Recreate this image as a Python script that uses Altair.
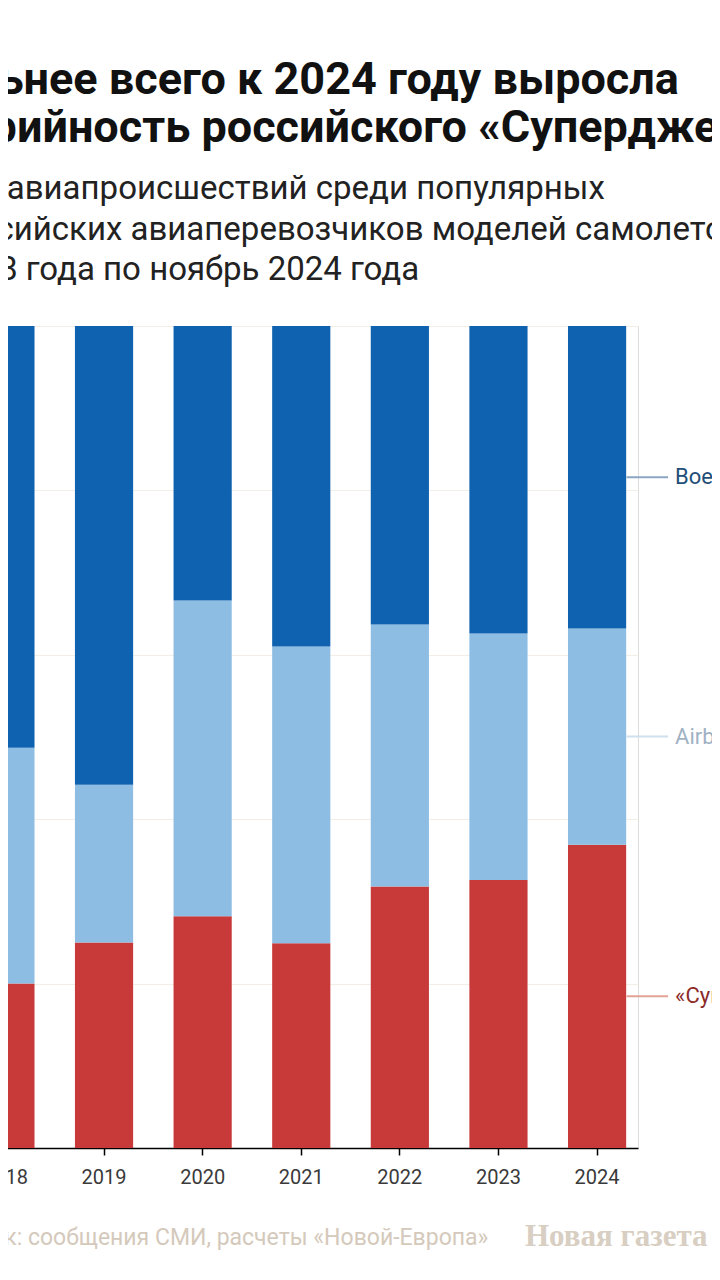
import altair as alt
import pandas as pd

years = ["2018", "2019", "2020", "2021", "2022", "2023", "2024"]
models = ["«Суперджет»", "Airbus", "Boeing"]
superjet = [20.0, 25.0, 28.2, 24.9, 31.8, 32.6, 36.9]
airbus = [28.7, 19.2, 38.4, 36.1, 31.9, 30.0, 26.3]
boeing = [51.3, 55.8, 33.4, 39.0, 36.3, 37.4, 36.8]

colors = ["#c83a3a", "#8dbde3", "#0f62b0"]
line_colors = ["#e3a394", "#cfe0ee", "#8aa6c2"]
label_colors = ["#8c2a2a", "#9fb2c4", "#1f4e79"]

title_lines = ["Сильнее всего к 2024 году выросла", "аварийность российского «Суперджета»"]
subtitle_lines = ["Доля авиапроисшествий среди популярных",
                  "у российских авиаперевозчиков моделей самолетов",
                  "с 2018 года по ноябрь 2024 года"]
source_text = "Источник: сообщения СМИ, расчеты «Новой-Европа»"
logo_text = "Новая газета Европа"

series = [superjet, airbus, boeing]
rows = []
for mi, m in enumerate(models):
    for yi, y in enumerate(years):
        rows.append({"year": y, "model": m, "share": series[mi][yi], "order": mi})
df = pd.DataFrame(rows)

# label positions: middle of each 2024 segment
last = [s[-1] for s in series]
tot = sum(last)
lab_rows = []
cum = 0.0
for mi, m in enumerate(models):
    mid = (cum + last[mi] / 2) / tot
    cum += last[mi]
    lab_rows.append({"year": years[-1], "model": m, "mid": mid})
ldf = pd.DataFrame(lab_rows)

xscale = alt.Scale(domain=years, range=[-43.5, 630], paddingInner=0.41, paddingOuter=0.12)
color_scale = alt.Scale(domain=models, range=colors)

bars = alt.Chart(df).mark_bar().encode(
    x=alt.X("year:N", scale=xscale, sort=years,
            axis=alt.Axis(title=None, labelAngle=0, domainColor="#000", domainWidth=1.5,
                          tickColor="#000", tickSize=7, tickWidth=1.5, labelFontSize=20,
                          labelColor="#3a3a3a", labelPadding=12, labelFont="Roboto")),
    y=alt.Y("share:Q", stack="normalize", scale=alt.Scale(domain=[0, 1]),
            axis=alt.Axis(title=None, grid=True, gridColor="#f3eee5", gridWidth=1,
                          domain=False, ticks=False, labels=False,
                          values=[0, 0.2, 0.4, 0.6, 0.8, 1.0])),
    color=alt.Color("model:N", scale=color_scale, legend=None),
    order=alt.Order("order:Q"),
)

rules = alt.Chart(ldf).mark_rule(xOffset=29.5, x2Offset=71, strokeWidth=2).encode(
    x=alt.X("year:N", scale=xscale, sort=years),
    x2=alt.X2("year:N"),
    y=alt.Y("mid:Q"),
    color=alt.Color("model:N", scale=alt.Scale(domain=models, range=line_colors), legend=None),
)

labels = alt.Chart(ldf).mark_text(align="left", baseline="middle", dx=78, fontSize=22,
                                  font="Roboto").encode(
    x=alt.X("year:N", scale=xscale, sort=years),
    y=alt.Y("mid:Q"),
    text="model:N",
    color=alt.Color("model:N", scale=alt.Scale(domain=models, range=label_colors), legend=None),
)

notes = pd.DataFrame({"t": [source_text]})
source = alt.Chart(notes).mark_text(align="left", baseline="alphabetic", fontSize=23,
                                    font="Roboto", color="#d4c9bb").encode(
    x=alt.value(-95), y=alt.value(919), text="t:N")
logo = alt.Chart(pd.DataFrame({"t": [logo_text]})).mark_text(
    align="left", baseline="alphabetic", fontSize=31, fontWeight="bold",
    font="Liberation Serif", color="#d8cec2").encode(
    x=alt.value(517), y=alt.value(920), text="t:N")

chart = alt.layer(bars, rules, labels, source, logo).resolve_scale(color="independent").properties(
    width=630, height=822,
    autosize=alt.AutoSizeParams(type="none"),
    padding={"left": 0, "top": 318, "right": 74, "bottom": 116},
    title=alt.TitleParams(
        text=title_lines, subtitle=subtitle_lines, anchor="start", frame="group",
        dx=-90, offset=39, font="Roboto", fontSize=45, fontWeight="bold", color="#111",
        lineHeight=48, subtitleFont="Roboto", subtitleFontSize=33, subtitleColor="#222",
        subtitleLineHeight=40.5, subtitlePadding=22),
).configure_view(strokeWidth=0).configure(background="white")

chart.save("out.html", embed_options={"renderer": "svg", "actions": False})
